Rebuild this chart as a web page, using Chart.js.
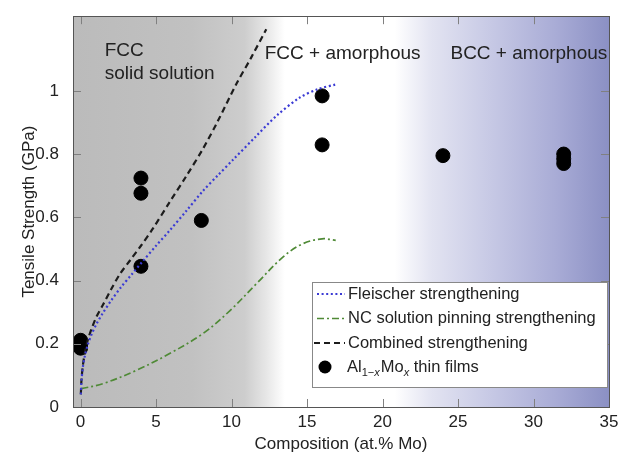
<!DOCTYPE html>
<html>
<head>
<meta charset="utf-8">
<script src="https://cdn.jsdelivr.net/npm/chart.js@4/dist/chart.umd.min.js"></script>
<style>
  html, body { margin: 0; padding: 0; background: #fff; }
  #wrap { width: 620px; height: 454px; position: relative; }
</style>
</head>
<body>
<div id="wrap"><canvas id="c" width="620" height="454"></canvas></div>
<script>
// ---- Data ----
const X_TICKS = [0, 5, 10, 15, 20, 25, 30, 35];
const Y_TICKS = [0, 0.2, 0.4, 0.6, 0.8, 1];

const filmsX = [0, 0, 0, 4, 4, 4, 8, 16, 16, 24, 32, 32, 32];
const filmsY = [0.211, 0.198, 0.186, 0.724, 0.676, 0.445, 0.59, 0.984, 0.829, 0.795, 0.80, 0.785, 0.77];

const fleischerX = [0.02, 0.06, 0.15, 0.3, 0.5, 0.75, 1.05, 1.45, 2.0, 2.7, 3.4, 4.1, 5.0, 5.9, 7.0, 8.1, 9.1, 10.1, 11.6, 13.0, 14.5, 15.7, 16.9];
const fleischerY = [0.04, 0.08, 0.125, 0.165, 0.2, 0.232, 0.262, 0.295, 0.335, 0.38, 0.42, 0.46, 0.51, 0.558, 0.62, 0.683, 0.733, 0.782, 0.855, 0.922, 0.978, 1.005, 1.02];

const ncX = [0.05, 1.5, 3.7, 5.9, 8.1, 9.9, 11.65, 13.4, 14.7, 16.0, 16.9];
const ncY = [0.058, 0.074, 0.116, 0.169, 0.232, 0.305, 0.39, 0.474, 0.516, 0.532, 0.527];

const combinedX = [0.02, 0.06, 0.15, 0.3, 0.5, 0.75, 1.05, 1.45, 2.0, 2.6, 3.3, 4.0, 4.8, 5.9, 7.0, 8.1, 9.1, 10.3, 11.3, 12.3];
const combinedY = [0.04, 0.085, 0.13, 0.175, 0.215, 0.25, 0.285, 0.32, 0.37, 0.42, 0.465, 0.51, 0.565, 0.648, 0.73, 0.816, 0.905, 1.02, 1.105, 1.195];

const SERIES_NAMES = ['Fleischer strengthening', 'NC solution pinning strengthening', 'Combined strengthening'];
const REGION_LABELS = [
  { lines: ['FCC', 'solid solution'] },
  { lines: ['FCC + amorphous'] },
  { lines: ['BCC + amorphous'] }
];

const pts = (xs, ys) => xs.map((x, i) => ({ x, y: ys[i] }));

const FONT = '"Liberation Sans", Arial, Helvetica, sans-serif';
const TEXT = '#222';

const decor = {
  id: 'decor',
  beforeDraw(chart) {
    const { ctx, chartArea: a } = chart;
    const g = ctx.createLinearGradient(a.left, 0, a.right, 0);
    g.addColorStop(0.00, '#bbbbbb');
    g.addColorStop(0.22, '#c1c1c1');
    g.addColorStop(0.32, '#cdcdcd');
    g.addColorStop(0.36, '#e6e6e6');
    g.addColorStop(0.395, '#ffffff');
    g.addColorStop(0.60, '#ffffff');
    g.addColorStop(0.67, '#e2e3f1');
    g.addColorStop(0.77, '#c9cbe6');
    g.addColorStop(0.90, '#a9acd6');
    g.addColorStop(1.00, '#8b90c4');
    ctx.save();
    ctx.fillStyle = g;
    ctx.fillRect(a.left, a.top, a.right - a.left, a.bottom - a.top);
    ctx.restore();
  },
  beforeDatasetsDraw(chart) {
    const { ctx } = chart;
    const xs = chart.scales.x, ys = chart.scales.y;
    ctx.save();
    ctx.fillStyle = TEXT;
    ctx.font = '19px ' + FONT;
    ctx.textBaseline = 'middle';
    ctx.textAlign = 'left';
    const pos = [[1.6, 1.126, 0.073], [12.2, 1.117, 0], [24.5, 1.117, 0]];
    REGION_LABELS.forEach((r, i) => {
      const px = xs.getPixelForValue(pos[i][0]);
      const py = ys.getPixelForValue(pos[i][1]);
      const step = ys.getPixelForValue(pos[i][1] - pos[i][2]) - py;
      r.lines.forEach((t, j) => ctx.fillText(t, px, py + j * step));
    });
    ctx.restore();
  },
  afterDraw(chart) {
    const { ctx, chartArea: a } = chart;
    const xs = chart.scales.x, ys = chart.scales.y;
    ctx.save();
    ctx.strokeStyle = '#808080';
    ctx.lineWidth = 1;
    const TL = 8;
    ctx.beginPath();
    X_TICKS.forEach(v => {
      const p = Math.round(xs.getPixelForValue(v)) + 0.5;
      ctx.moveTo(p, a.bottom); ctx.lineTo(p, a.bottom - TL);
      ctx.moveTo(p, a.top); ctx.lineTo(p, a.top + TL);
    });
    Y_TICKS.forEach(v => {
      const p = Math.round(ys.getPixelForValue(v)) + 0.5;
      ctx.moveTo(a.left, p); ctx.lineTo(a.left + TL, p);
      ctx.moveTo(a.right, p); ctx.lineTo(a.right - TL, p);
    });
    ctx.stroke();
    ctx.strokeStyle = '#555';
    ctx.strokeRect(Math.round(a.left) + 0.5, Math.round(a.top) + 0.5,
                   Math.round(a.right - a.left), Math.round(a.bottom - a.top));

    const L = { left: 312, top: 282, right: 607, bottom: 387 };
    ctx.fillStyle = '#fff';
    ctx.fillRect(L.left, L.top, L.right - L.left, L.bottom - L.top);
    ctx.strokeStyle = '#888';
    ctx.strokeRect(L.left + 0.5, L.top + 0.5, L.right - L.left, L.bottom - L.top);

    const rowsY = [294, 318.5, 343, 367];
    const ds = chart.data.datasets;
    const textX = 348;
    ctx.font = '16.5px ' + FONT;
    ctx.fillStyle = TEXT;
    ctx.textBaseline = 'middle';
    ctx.textAlign = 'left';
    for (let i = 0; i < 3; i++) {
      const d = ds[i];
      ctx.save();
      ctx.strokeStyle = d.borderColor;
      ctx.lineWidth = d.borderWidth;
      ctx.setLineDash(d.borderDash);
      ctx.beginPath();
      const x0 = i === 2 ? 314 : 317;
      ctx.moveTo(x0, rowsY[i]); ctx.lineTo(345, rowsY[i]);
      ctx.stroke();
      ctx.restore();
      ctx.fillText(d.label, textX, rowsY[i]);
    }
    ctx.beginPath();
    ctx.fillStyle = '#000';
    ctx.arc(325, rowsY[3], 6.5, 0, Math.PI * 2);
    ctx.fill();
    ctx.fillStyle = TEXT;
    let x = 347;
    const y = rowsY[3];
    const big = '16.5px ' + FONT, small = '11px ' + FONT, smallI = 'italic 11px ' + FONT;
    const part = (t, f, dy) => { ctx.font = f; ctx.fillText(t, x, y + dy); x += ctx.measureText(t).width; };
    part('Al', big, 0);
    part('1\u2212', small, 6);
    part('x', smallI, 6);
    x += 1;
    part('Mo', big, 0);
    part('x', smallI, 6);
    part(' thin films', big, 0);
    ctx.restore();
  }
};

new Chart(document.getElementById('c'), {
  type: 'scatter',
  data: {
    datasets: [
      {
        label: SERIES_NAMES[0],
        data: pts(fleischerX, fleischerY),
        showLine: true, borderColor: '#3b3bd4', borderWidth: 2.2,
        borderDash: [2, 2.6], pointRadius: 0, tension: 0.3
      },
      {
        label: SERIES_NAMES[1],
        data: pts(ncX, ncY),
        showLine: true, borderColor: '#4f8a36', borderWidth: 1.7,
        borderDash: [7, 3, 2, 3], pointRadius: 0, tension: 0.35
      },
      {
        label: SERIES_NAMES[2],
        data: pts(combinedX, combinedY),
        showLine: true, borderColor: '#1c1c1c', borderWidth: 2.2,
        borderDash: [6, 4], pointRadius: 0, tension: 0.3
      },
      {
        label: 'Al1-xMox thin films',
        data: pts(filmsX, filmsY),
        showLine: false, pointRadius: 7, pointBackgroundColor: '#000',
        pointBorderColor: '#000', backgroundColor: '#000', borderColor: '#000'
      }
    ]
  },
  plugins: [decor],
  options: {
    responsive: false,
    animation: false,
    layout: { padding: { top: 15, right: 11, left: 0, bottom: 0 } },
    plugins: { legend: { display: false }, tooltip: { enabled: false } },
    scales: {
      x: {
        type: 'linear', min: -0.5, max: 35,
        afterBuildTicks: s => { s.ticks = X_TICKS.map(v => ({ value: v })); },
        afterFit: s => { s.height = 47; },
        grid: { display: false },
        border: { display: false },
        ticks: { color: TEXT, font: { family: FONT, size: 17 }, padding: -3, maxRotation: 0,
                 callback: v => String(v) },
        title: { display: true, text: 'Composition (at.% Mo)', color: TEXT,
                 font: { family: FONT, size: 17 }, padding: { top: 0, bottom: -1 } }
      },
      y: {
        type: 'linear', min: 0, max: 1.236,
        afterBuildTicks: s => { s.ticks = Y_TICKS.map(v => ({ value: v })); },
        afterFit: s => { s.width = 73; },
        grid: { display: false },
        border: { display: false },
        ticks: { color: TEXT, font: { family: FONT, size: 17 }, padding: 6,
                 callback: v => String(Math.round(v * 10) / 10) },
        title: { display: true, text: 'Tensile Strength (GPa)', color: TEXT,
                 font: { family: FONT, size: 17 }, padding: { top: 19, bottom: 0 } }
      }
    }
  }
});
</script>
</body>
</html>
